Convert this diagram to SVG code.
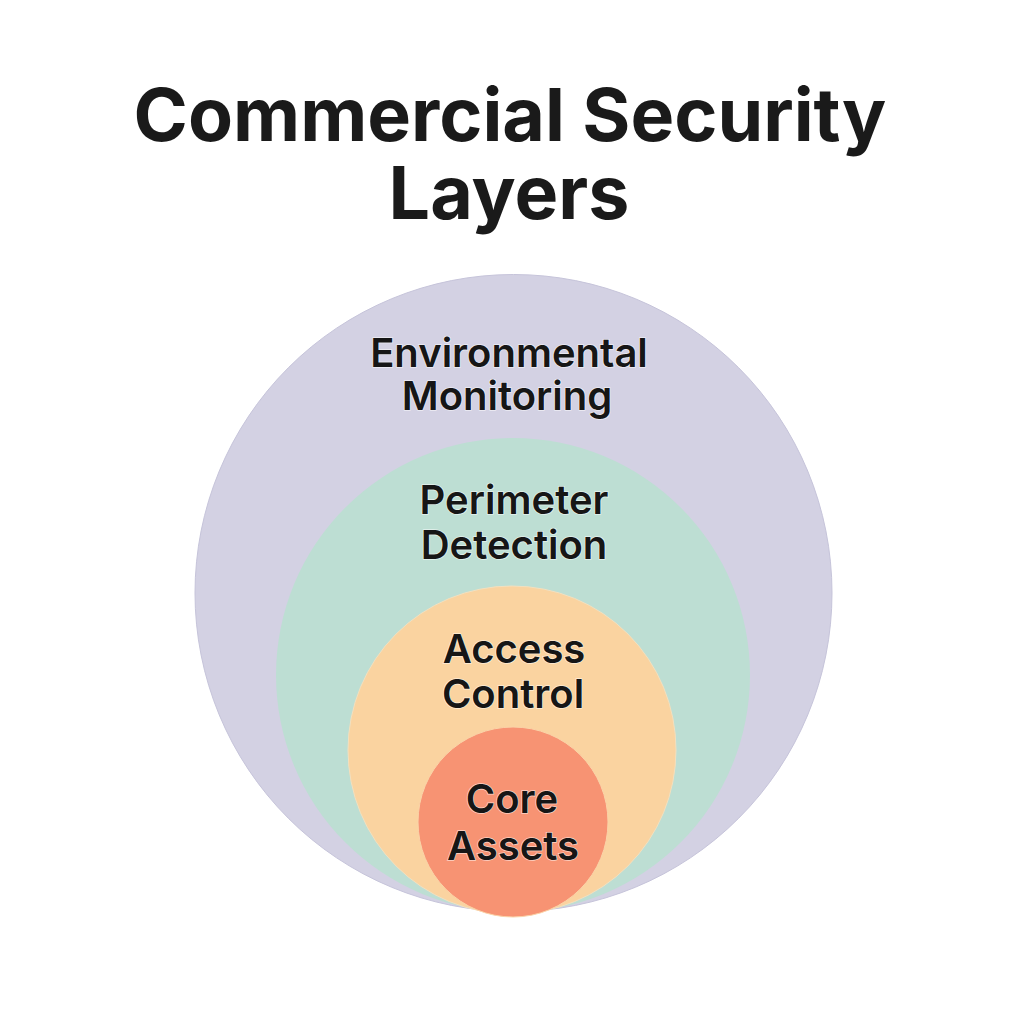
<svg xmlns="http://www.w3.org/2000/svg" width="1024" height="1024" viewBox="0 0 1024 1024">
<style>
.title{font-family:Inter,"Liberation Sans",sans-serif;font-weight:700;font-size:73.5px;fill:#1a1a1a;text-anchor:middle}
.lbl{font-family:Inter,"Liberation Sans",sans-serif;font-weight:600;font-size:40px;fill:#161616;text-anchor:middle;stroke:#ffffff;stroke-width:1.5;stroke-opacity:0.6;paint-order:stroke}
</style>
<rect width="1024" height="1024" fill="#ffffff"/>
<g id="title">
<text class="title" x="510" y="141">Commercial Security</text>
<text class="title" x="509" y="219">Layers</text>
</g>
<g id="environmental-monitoring">
<circle cx="513.5" cy="593" r="318.5" fill="#D3D1E3" stroke="#c6c4da" stroke-width="1"/>
<text class="lbl" x="509" y="367">Environmental</text>
<text class="lbl" x="507" y="410">Monitoring</text>
</g>
<g id="perimeter-detection">
<circle cx="513" cy="675" r="237" fill="#BDDED3"/>
<text class="lbl" x="514" y="514">Perimeter</text>
<text class="lbl" x="514" y="559">Detection</text>
</g>
<g id="access-control">
<circle cx="512" cy="750" r="164" fill="#FAD3A0" stroke="#f3e0bf" stroke-width="1"/>
<text class="lbl" x="514" y="663">Access</text>
<text class="lbl" x="513" y="708">Control</text>
</g>
<g id="core-assets">
<circle cx="513" cy="822" r="95" fill="#F79373" stroke="#fbd3a8" stroke-width="1"/>
<text class="lbl" x="512" y="813">Core</text>
<text class="lbl" x="513" y="860">Assets</text>
</g>
<g id="connectors"></g>
</svg>
